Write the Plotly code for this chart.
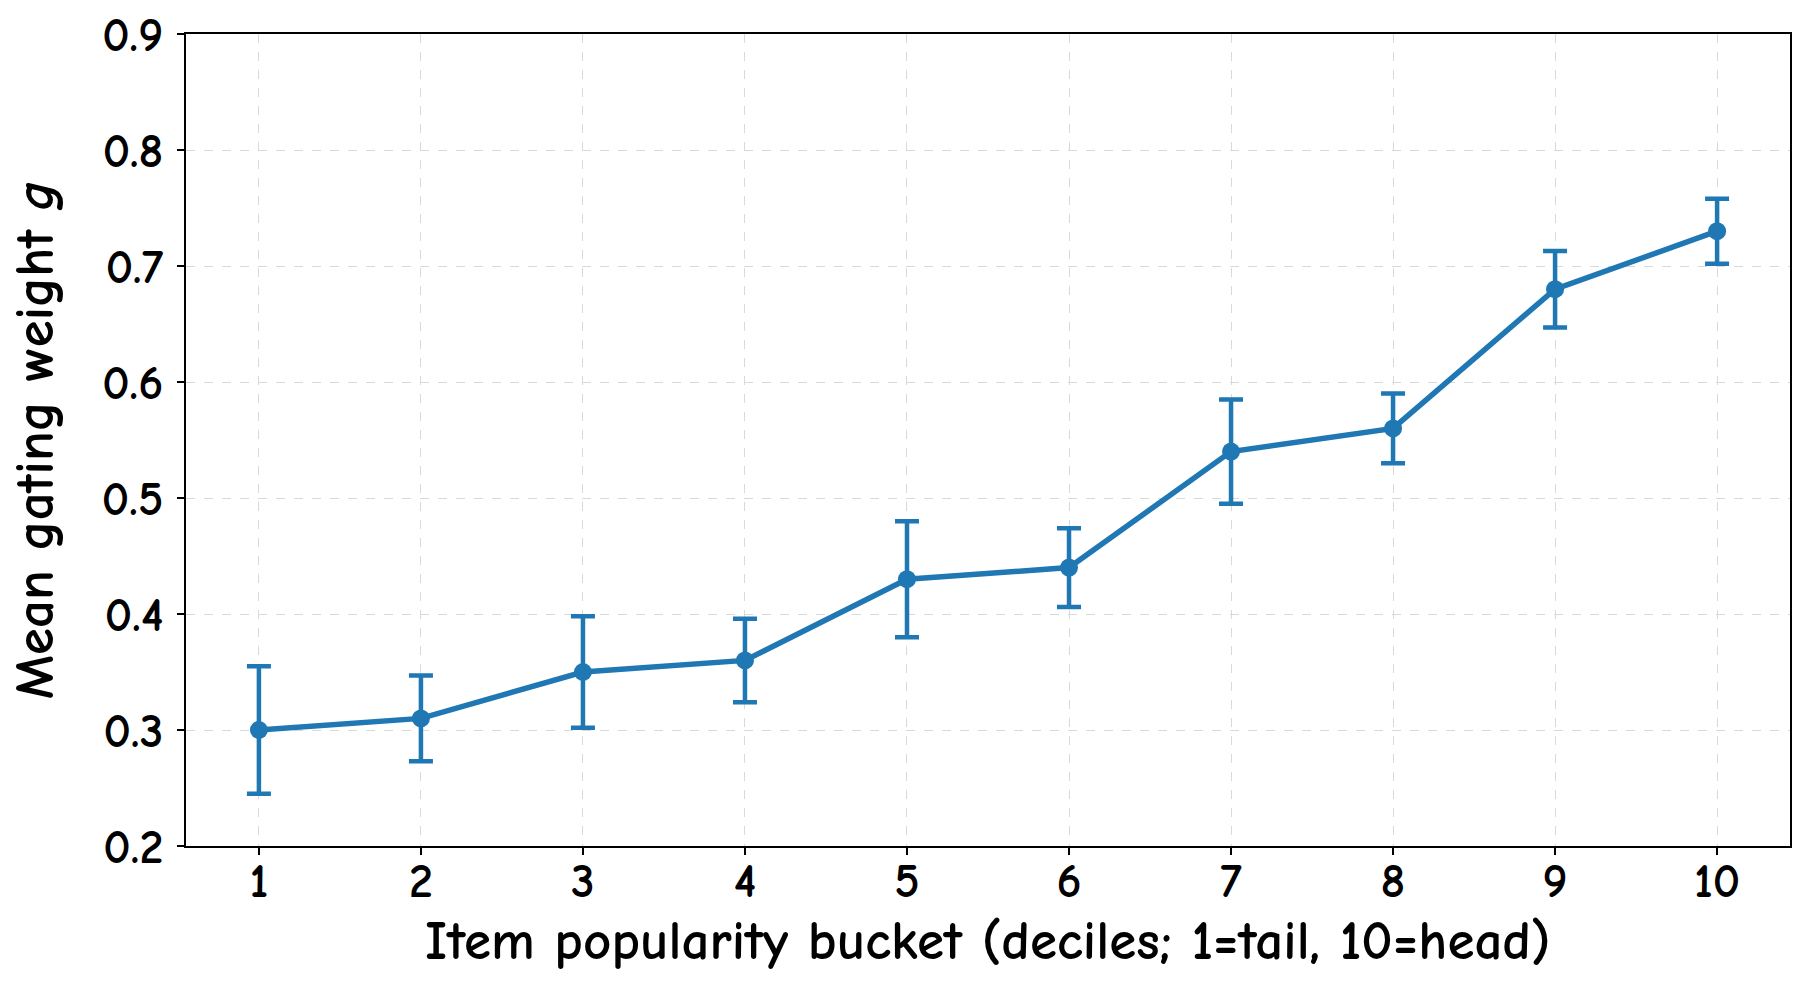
import plotly.graph_objects as go

buckets = [1, 2, 3, 4, 5, 6, 7, 8, 9, 10]
mean_g = [0.30, 0.31, 0.35, 0.36, 0.43, 0.44, 0.54, 0.56, 0.68, 0.73]
err_g = [0.055, 0.037, 0.048, 0.036, 0.050, 0.034, 0.045, 0.030, 0.033, 0.028]

y_ticks = [0.2, 0.3, 0.4, 0.5, 0.6, 0.7, 0.8, 0.9]

x_title = "Item popularity bucket (deciles; 1=tail, 10=head)"
y_title = "Mean gating weight <i>g</i>"

blue = "#1f77b4"
font_family = "Comic Sans MS, Comic Neue, Noto Sans, sans-serif"
title_font = dict(size=55, color="black", family=font_family, weight="bold")

fig = go.Figure(go.Scatter(
    x=buckets,
    y=mean_g,
    mode="lines+markers",
    line=dict(color=blue, width=5.5),
    marker=dict(color=blue, size=18),
    error_y=dict(type="data", array=err_g, color=blue, thickness=4.5, width=12),
    showlegend=False,
))

axis_common = dict(
    showline=True, linecolor="black", linewidth=2, mirror=True,
    ticks="outside", ticklen=7, tickwidth=2, tickcolor="black",
    showgrid=True, gridcolor="#d9d9d9", griddash="dash", gridwidth=1,
    zeroline=False, ticklabeloverflow="allow",
    tickfont=dict(size=48, color="black", family=font_family, weight="bold"),
)

fig.update_xaxes(range=[0.55, 10.45], tickvals=buckets, ticklabelstandoff=-16,
                 **axis_common)
fig.update_yaxes(range=[0.2, 0.9], tickvals=y_ticks, tickformat=".1f",
                 ticklabelstandoff=4, **axis_common)

# axis titles placed as annotations to match the reference spacing
fig.add_annotation(text=x_title, xref="paper", yref="paper", x=0.5, y=-0.117,
                   xanchor="center", yanchor="middle", showarrow=False, font=title_font)
fig.add_annotation(text=y_title, xref="paper", yref="paper", x=-0.094, y=0.5,
                   xanchor="center", yanchor="middle", textangle=-90,
                   showarrow=False, font=title_font)

fig.update_layout(
    width=1800, height=982,
    plot_bgcolor="white", paper_bgcolor="white",
    margin=dict(l=186, r=8, t=28, b=136),
)

fig.write_html("out.html", config={"displayModeBar": False},
               post_script="document.body.style.margin='0';")
